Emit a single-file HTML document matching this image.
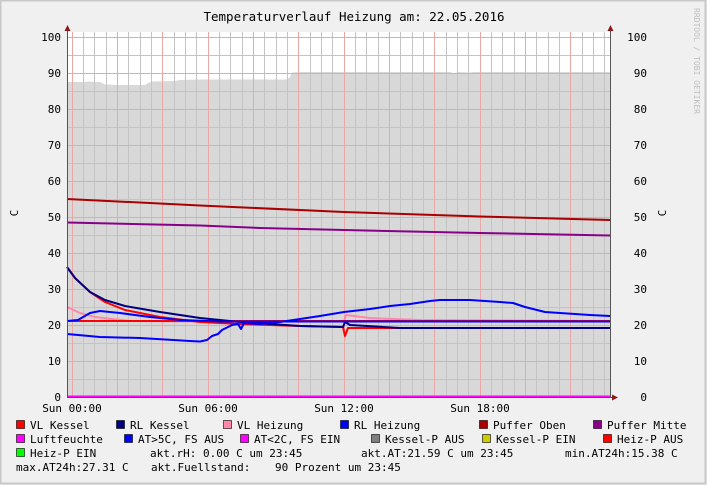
<!DOCTYPE html>
<html><head><meta charset="utf-8"><style>
body{margin:0;background:#f0f0f0;}
svg{display:block;font-family:"DejaVu Sans Mono","Liberation Mono",monospace;}
</style></head><body>
<svg width="707" height="485" viewBox="0 0 707 485" xmlns="http://www.w3.org/2000/svg">
<rect x="0" y="0" width="707" height="485" fill="#f0f0f0"/>
<rect x="0.5" y="0.5" width="705" height="483" fill="none" stroke="#c8c8c8" stroke-width="2"/>
<text x="354" y="21" font-size="12.5" text-anchor="middle" fill="#000">Temperaturverlauf Heizung am: 22.05.2016</text>
<text x="694" y="8" font-size="8" fill="#c0c0c0" transform="rotate(90 694 8)">RRDTOOL / TOBI OETIKER</text>
<rect x="67" y="32" width="543" height="365" fill="#ffffff"/>
<path fill="#d8d8d8" d="M67,397 L67,82 L85,82 L88,81.5 L100,82 L105,84.5 L120,85 L145,85 L148,83 L153,81.5 L175,81 L180,80 L200,79.5 L287,79.5 L290,77 L292,72.5 L302,72 L450,72 L454,73.5 L458,72 L470,72.5 L474,72 L610,72 L610,397 Z"/>
<g fill="none" stroke-width="1" shape-rendering="crispEdges">
<g stroke="#c4c4c4">
<path d="M67,379.5H610M67,343.5H610M67,307.5H610M67,271.5H610M67,235.5H610M67,199.5H610M67,163.5H610M67,127.5H610M67,91.5H610M67,55.5H610"/>
<path d="M83.5,32V397M94.5,32V397M106.5,32V397M128.5,32V397M140.5,32V397M151.5,32V397M174.5,32V397M185.5,32V397M196.5,32V397M219.5,32V397M230.5,32V397M242.5,32V397M264.5,32V397M276.5,32V397M287.5,32V397M310.5,32V397M321.5,32V397M332.5,32V397M355.5,32V397M366.5,32V397M378.5,32V397M400.5,32V397M412.5,32V397M423.5,32V397M446.5,32V397M457.5,32V397M468.5,32V397M491.5,32V397M502.5,32V397M514.5,32V397M536.5,32V397M548.5,32V397M559.5,32V397M582.5,32V397M593.5,32V397M604.5,32V397"/>
</g>
<g stroke="#e8a8a8">
<path d="M67,361.5H610M67,325.5H610M67,289.5H610M67,253.5H610M67,217.5H610M67,181.5H610M67,145.5H610M67,109.5H610M67,73.5H610M67,37.5H610"/>
<path d="M72.5,32V397M117.5,32V397M162.5,32V397M208.5,32V397M253.5,32V397M298.5,32V397M344.5,32V397M389.5,32V397M434.5,32V397M480.5,32V397M525.5,32V397M570.5,32V397"/>
</g>
</g>
<g fill="none" stroke-width="2" stroke-linejoin="round">
<path stroke="#aa0000" d="M67,199 L200,205.5 L344,212 L480,216.5 L610,220"/>
<path stroke="#880088" d="M67,222.5 L200,225.5 L260,228 L344,230 L480,233 L610,235.5"/>
<path stroke="#ff88aa" d="M67,307 L80,313 L95,317 L130,321 L200,321.5 L344,321.5 L346,315 L370,318 L420,320 L610,321"/>
<path stroke="#ff0000" d="M67,321 L610,321"/>
<path stroke="#ff0000" d="M67,267 L75,278 L90,292 L105,302 L125,310 L160,317 L200,322 L240,324 L300,326 L343,327 L345,336 L348,328 L370,328 L610,328"/>
<path stroke="#000080" d="M67,267 L75,278 L90,292 L105,300 L125,306 L160,312 L200,318 L240,322 L300,326 L343,327 L345,322 L350,325 L400,328 L610,328"/>
<path stroke="#0000ff" d="M67,321 L78,320 L90,313 L100,311 L120,313 L150,317 L180,320 L220,321.5 L610,321.5"/>
<path stroke="#0000ff" d="M67,334 L100,337 L140,338 L190,341 L200,341.5 L207,340 L212,336 L218,334 L222,330 L226,328 L232,325 L238,324 L241,329 L244,323 L260,324 L280,322 L300,319 L320,316 L344,312 L370,309 L390,306 L410,304 L430,301 L440,300 L470,300 L500,302 L513,303 L525,307 L545,312 L560,313 L590,315 L610,316"/>
<path stroke="#ff00ff" d="M67,396.5 L610,396.5"/>
</g>
<g fill="none" stroke="#555" stroke-width="1" shape-rendering="crispEdges">
<path d="M67.5,30V397.5H612"/>
<path d="M610.5,30V397.5"/>
</g>
<path d="M64.5,31 L67.5,25 L70.5,31Z" fill="#8b1a1a"/>
<path d="M607.5,31 L610.5,25 L613.5,31Z" fill="#8b1a1a"/>
<path d="M612,394.5 L618,397.5 L612,400.5Z" fill="#8b1a1a"/>
<g font-size="11" fill="#000" text-anchor="end">
<text x="61" y="41">100</text><text x="61" y="77">90</text><text x="61" y="113">80</text><text x="61" y="149">70</text><text x="61" y="185">60</text><text x="61" y="221">50</text><text x="61" y="257">40</text><text x="61" y="293">30</text><text x="61" y="329">20</text><text x="61" y="365">10</text><text x="61" y="401">0</text>
<text x="647" y="41">100</text><text x="647" y="77">90</text><text x="647" y="113">80</text><text x="647" y="149">70</text><text x="647" y="185">60</text><text x="647" y="221">50</text><text x="647" y="257">40</text><text x="647" y="293">30</text><text x="647" y="329">20</text><text x="647" y="365">10</text><text x="647" y="401">0</text>
</g>
<text x="18" y="213" font-size="11" transform="rotate(-90 18 213)" text-anchor="middle">C</text>
<text x="666" y="213" font-size="11" transform="rotate(-90 666 213)" text-anchor="middle">C</text>
<g font-size="11" fill="#000" text-anchor="middle">
<text x="72" y="412">Sun 00:00</text><text x="208" y="412">Sun 06:00</text><text x="344" y="412">Sun 12:00</text><text x="480" y="412">Sun 18:00</text>
</g>
<g stroke="#000" stroke-width="0.6">
<rect x="16.5" y="420.5" width="8" height="8" fill="#ff0000"/>
<rect x="116.5" y="420.5" width="8" height="8" fill="#000080"/>
<rect x="223.5" y="420.5" width="8" height="8" fill="#ff88aa"/>
<rect x="340.5" y="420.5" width="8" height="8" fill="#0000ff"/>
<rect x="479.5" y="420.5" width="8" height="8" fill="#aa0000"/>
<rect x="593.5" y="420.5" width="8" height="8" fill="#880088"/>
<rect x="16.5" y="434.5" width="8" height="8" fill="#ff00ff"/>
<rect x="124.5" y="434.5" width="8" height="8" fill="#0000ff"/>
<rect x="240.5" y="434.5" width="8" height="8" fill="#ff00ff"/>
<rect x="371.5" y="434.5" width="8" height="8" fill="#808080"/>
<rect x="482.5" y="434.5" width="8" height="8" fill="#cccc00"/>
<rect x="603.5" y="434.5" width="8" height="8" fill="#ff0000"/>
<rect x="16.5" y="448.5" width="8" height="8" fill="#00ff00"/>
</g>
<g font-size="11" fill="#000" style="white-space:pre">
<text x="30" y="429">VL Kessel</text><text x="130" y="429">RL Kessel</text><text x="237" y="429">VL Heizung</text><text x="354" y="429">RL Heizung</text><text x="493" y="429">Puffer Oben</text><text x="607" y="429">Puffer Mitte</text>
<text x="30" y="443">Luftfeuchte</text><text x="138" y="443">AT&gt;5C, FS AUS</text><text x="254" y="443">AT&lt;2C, FS EIN</text><text x="385" y="443">Kessel-P AUS</text><text x="496" y="443">Kessel-P EIN</text><text x="617" y="443">Heiz-P AUS</text>
<text x="30" y="457">Heiz-P EIN</text><text x="150" y="457">akt.rH: 0.00 C um 23:45</text><text x="361" y="457">akt.AT:21.59 C um 23:45</text><text x="565" y="457">min.AT24h:15.38 C</text>
<text x="16" y="471">max.AT24h:27.31 C</text><text x="151" y="471">akt.Fuellstand:</text><text x="275" y="471">90 Prozent um 23:45</text>
</g>
</svg>
</body></html>
